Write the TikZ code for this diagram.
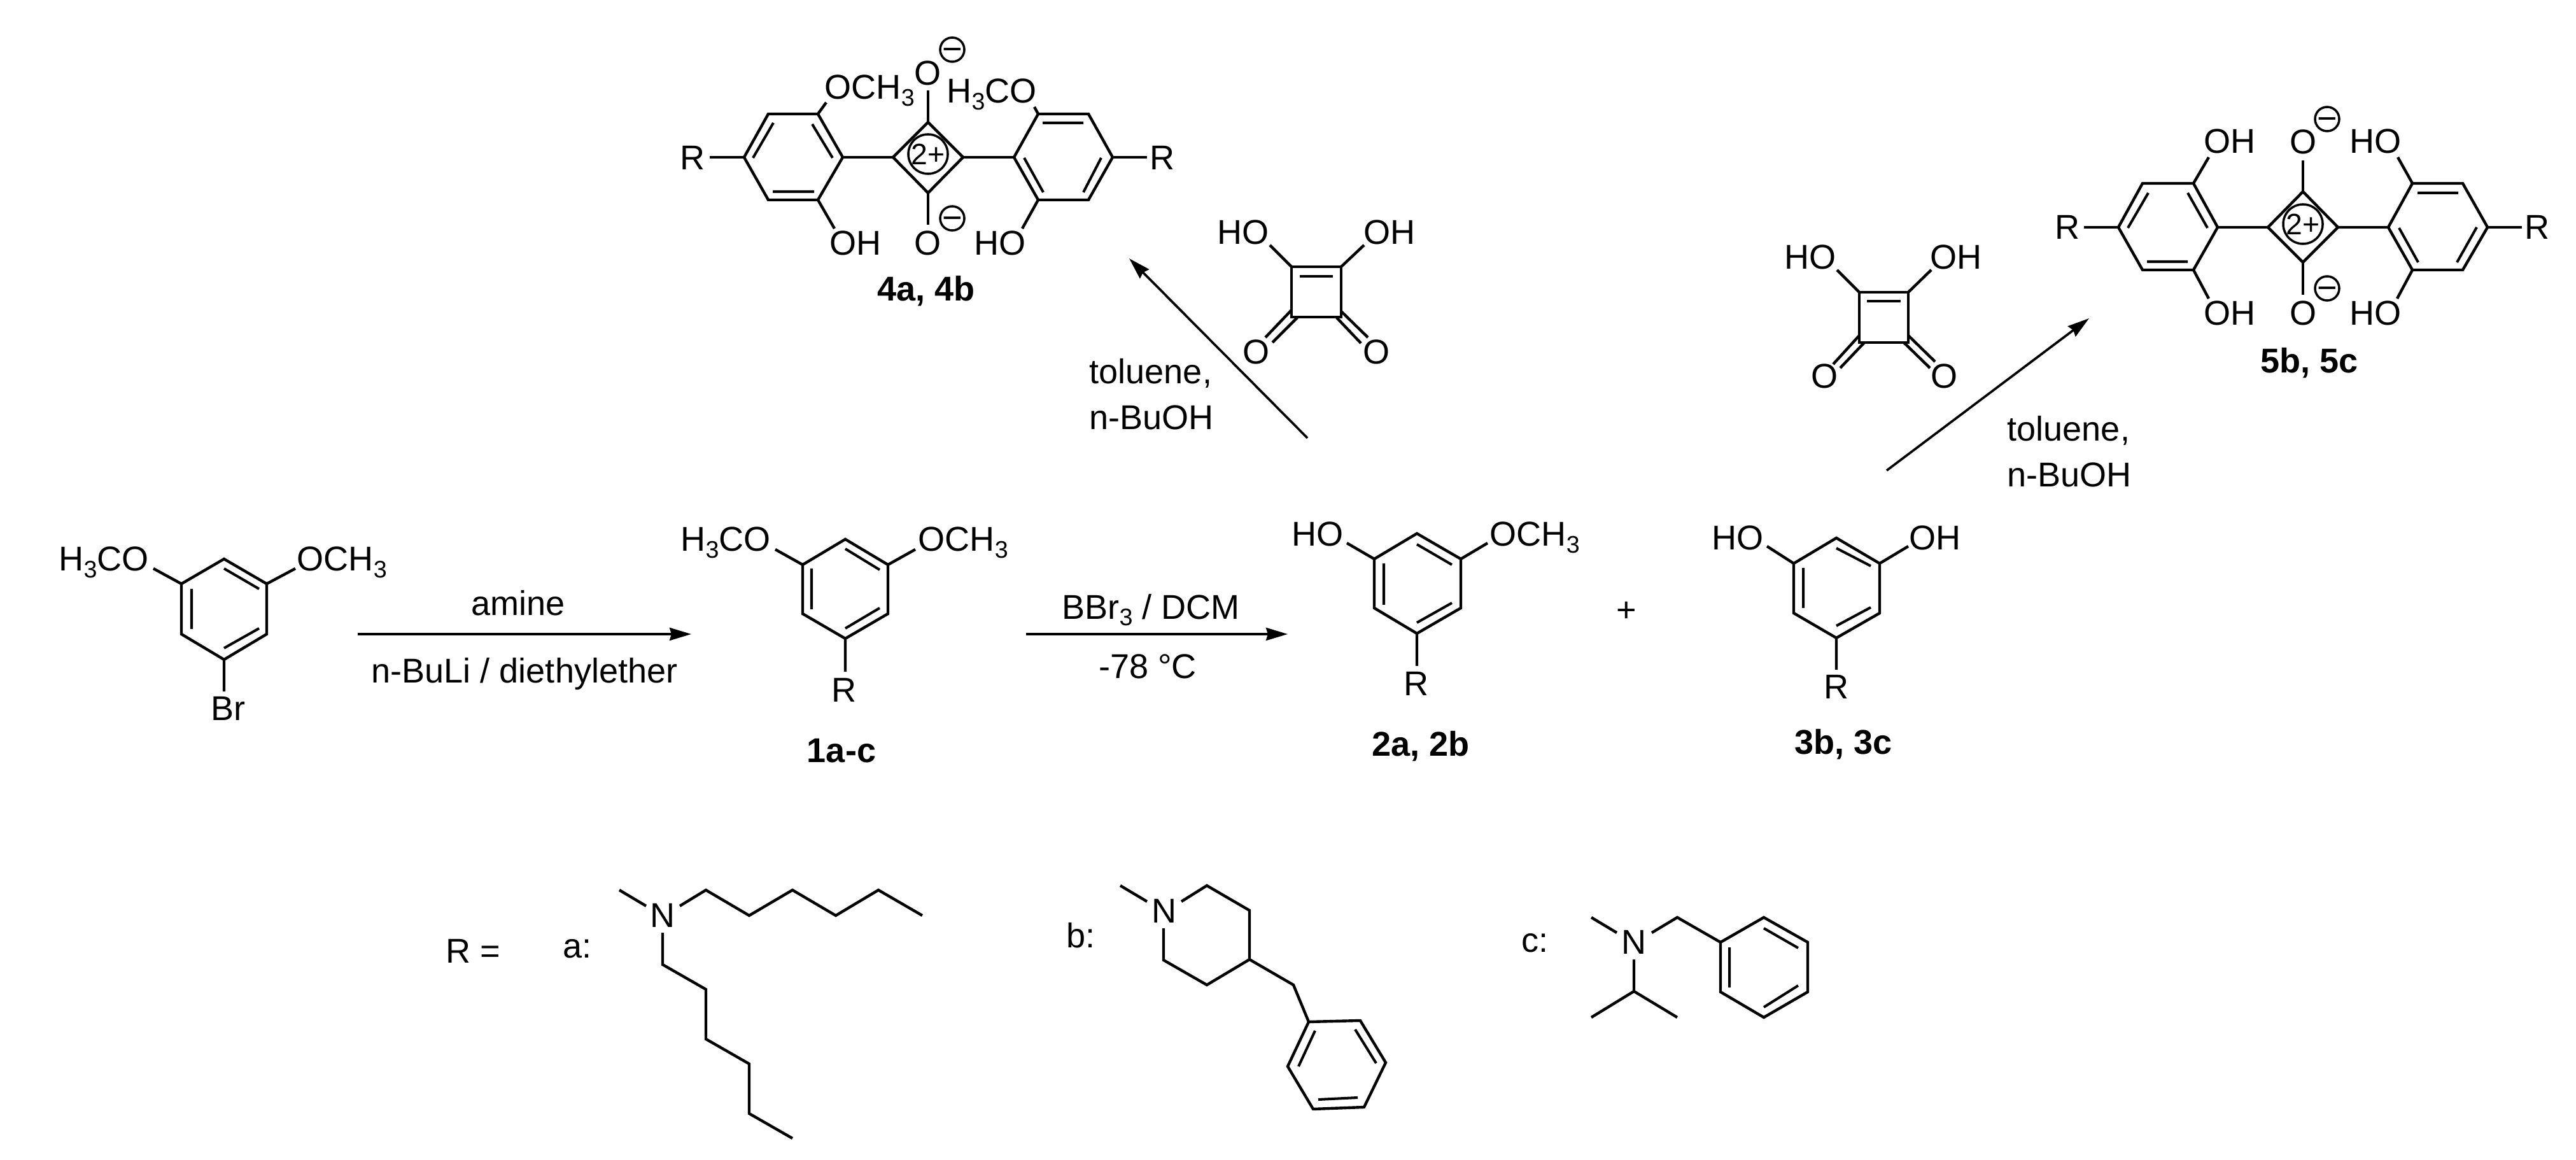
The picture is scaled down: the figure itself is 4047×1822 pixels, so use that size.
\documentclass[tikz,border=0pt]{standalone}
\usepackage{fontspec}
\setmainfont{Liberation Sans}
\usetikzlibrary{arrows.meta}
\newcommand{\subn}[1]{\raisebox{-0.2em}{\fontsize{10.7}{12}\selectfont #1}}
\newcommand{\midglyph}[2]{\makebox[0pt]{\raisebox{#1}[0pt][0pt]{#2}}}
\tikzset{
  bond/.style={line width=1.25pt,line join=miter},
  inbond/.style={line width=1.15pt,line cap=butt},
  lbl/.style={inner sep=0pt,anchor=base west,font=\fontsize{15.37}{18}\selectfont},
  lbc/.style={inner sep=0pt,anchor=base,font=\fontsize{15.37}{18}\selectfont},
  cmp/.style={inner sep=0pt,anchor=base,font=\fontsize{15.37}{18}\selectfont\bfseries},
  neg/.style={circle,draw,line width=1pt,minimum size=0.38cm,inner sep=0pt,font=\fontsize{15.37}{18}\selectfont},
  dipos/.style={circle,draw,line width=1pt,minimum size=0.62cm,inner sep=0pt,font=\fontsize{13.2}{15}\selectfont},
  rxn/.style={line width=1.05pt,-{Stealth[length=0.34cm,width=0.2cm,inset=0.03cm]}}
}
\begin{document}
\begin{tikzpicture}[x=0.01cm,y=-0.01cm]
\useasboundingbox (0,0) rectangle (4047,1822);
\fill[white] (0,0) rectangle (4047,1822);

% ---------- reaction arrows
\coordinate (a1s) at (562,996);  \coordinate (a1e) at (1086,996);
\coordinate (a2s) at (1612,996); \coordinate (a2e) at (2023,996);
\coordinate (a3s) at (2054,688); \coordinate (a3e) at (1774,406);
\coordinate (a4s) at (2964,739); \coordinate (a4e) at (3282,500);
\draw[rxn] (a1s) -- (a1e);
\draw[rxn] (a2s) -- (a2e);
\draw[rxn] (a3s) -- (a3e);
\draw[rxn] (a4s) -- (a4e);

% ---------- reagents on arrows
\node[lbc] (t1) at (814,967) {amine};
\node[lbc] (t2) at (824,1072) {n-BuLi / diethylether};
\node[lbc] (t3) at (1808,972) {BBr\subn{3} / DCM};
\node[lbc] (t4) at (1803,1065) {-78 °C};
\node[lbl] (t5) at (1711,603) {toluene,};
\node[lbl] (t6) at (1711,675) {n-BuOH};
\node[lbl] (t7) at (3153,693) {toluene,};
\node[lbl] (t8) at (3153,765) {n-BuOH};
\node[lbc] (plus) at (2555,977) {+};

% ---------- bromide
\draw[bond] (352,878) -- (419,917) -- (419,996) -- (352,1036) -- (285,996) -- (285,917) -- cycle;
\draw[inbond] (301,925) -- (301,988) (352,893) -- (407,925) (407,987) -- (352,1018);
\draw[bond] (285,917) -- (241,893) (419,917) -- (464,893) (352,1036) -- (352,1086);
\node[lbl] (s1) at (92,897) {H\subn{3}CO};
\node[lbl] (s2) at (466,897) {OCH\subn{3}};
\node[lbl] (s3) at (331,1131) {Br};

% ---------- 1a-c
\draw[bond] (1328,847) -- (1395,887) -- (1395,964) -- (1328,1003) -- (1261,964) -- (1261,887) -- cycle;
\draw[inbond] (1275,893) -- (1275,957) (1328,862) -- (1382,895) (1382,955) -- (1328,987);
\draw[bond] (1261,887) -- (1218,863) (1395,887) -- (1438,863) (1328,1003) -- (1328,1055);
\node[lbl] (p1) at (1069,866) {H\subn{3}CO};
\node[lbl] (p2) at (1442,866) {OCH\subn{3}};
\node[lbc] (p3) at (1326,1102) {R};
\node[cmp] (c1) at (1322,1197) {1a-c};

% ---------- 2a, 2b
\draw[bond] (2226,838) -- (2295,878) -- (2295,955) -- (2226,995) -- (2159,955) -- (2159,878) -- cycle;
\draw[inbond] (2174,885) -- (2174,950) (2226,855) -- (2281,887) (2281,947) -- (2226,978);
\draw[bond] (2159,878) -- (2116,853) (2295,878) -- (2337,853) (2226,995) -- (2226,1046);
\node[lbl] (q1) at (2029,858) {HO};
\node[lbl] (q2) at (2340,858) {OCH\subn{3}};
\node[lbc] (q3) at (2225,1092) {R};
\node[cmp] (c2) at (2232,1187) {2a, 2b};

% ---------- 3b, 3c
\draw[bond] (2885,845) -- (2953,885) -- (2953,963) -- (2885,1002) -- (2818,963) -- (2818,885) -- cycle;
\draw[inbond] (2833,892) -- (2833,955) (2885,861) -- (2939,889) (2939,954) -- (2885,983);
\draw[bond] (2818,885) -- (2776,858) (2953,885) -- (2998,858) (2885,1002) -- (2885,1052);
\node[lbl] (r1) at (2689,864) {HO};
\node[lbl] (r2) at (2999,864) {OH};
\node[lbc] (r3) at (2885,1097) {R};
\node[cmp] (c3) at (2896,1184) {3b, 3c};

% ---------- squaric acid (left)
\draw[bond] (2029,419) -- (2107,419) -- (2107,498) -- (2029,498) -- cycle;
\draw[inbond] (2042,434) -- (2094,434);
\draw[bond] (2029,419) -- (1995,385) (2107,419) -- (2143,385);
\draw[bond] (2029,487) -- (1988,530) (2038,499) -- (1999,538) (2107,489) -- (2149,530) (2100,499) -- (2138,539);
\node[lbl] (u1) at (1912,384) {HO};
\node[lbl] (u2) at (2142,384) {OH};
\node[lbc] (u3) at (1973,572) {O};
\node[lbc] (u4) at (2163,572) {O};

% ---------- squaric acid (right)
\draw[bond] (2921,459) -- (2998,459) -- (2998,538) -- (2921,538) -- cycle;
\draw[inbond] (2933,473) -- (2986,473);
\draw[bond] (2921,459) -- (2886,424) (2998,459) -- (3034,424);
\draw[bond] (2921,527) -- (2880,572) (2929,538) -- (2891,578) (2998,527) -- (3040,568) (2991,538) -- (3032,578);
\node[lbl] (v1) at (2803,423) {HO};
\node[lbl] (v2) at (3032,423) {OH};
\node[lbc] (v3) at (2866,610) {O};
\node[lbc] (v4) at (3054,610) {O};

% ---------- 4a, 4b
\draw[bond] (1169,247) -- (1207,179) -- (1285,179) -- (1324,247) -- (1285,314) -- (1207,314) -- cycle;
\draw[inbond] (1215,193) -- (1183,248) (1276,195) -- (1308,248) (1214,301) -- (1279,301);
\draw[bond] (1403,247) -- (1458,192) -- (1513,247) -- (1458,303) -- cycle;
\draw[bond] (1593,247) -- (1631,179) -- (1710,179) -- (1748,247) -- (1710,314) -- (1631,314) -- cycle;
\draw[inbond] (1638,193) -- (1702,193) (1609,248) -- (1639,302) (1730,248) -- (1702,302);
\draw[bond] (1115,247) -- (1169,247) (1324,247) -- (1403,247) (1513,247) -- (1593,247) (1748,247) -- (1802,247);
\draw[bond] (1458,192) -- (1458,142) (1458,303) -- (1458,353);
\draw[bond] (1285,179) -- (1298,161) (1631,179) -- (1625,168) (1285,314) -- (1311,359) (1631,314) -- (1606,359);
\node[lbc] (w1) at (1088,267) {R};
\node[lbc] (w2) at (1826,267) {R};
\node[lbl] (w3) at (1295,156) {OCH\subn{3}};
\node[lbl] (w4) at (1487,162) {H\subn{3}CO};
\node[lbc] (w5) at (1458,134) {O};
\node[lbc] (w6) at (1458,401) {O};
\node[lbl] (w7) at (1303,401) {OH};
\node[lbl] (w8) at (1530,401) {HO};
\node[neg] (w9) at (1496,78) {\midglyph{-0.33em}{−}};
\node[neg] (w10) at (1496,343) {\midglyph{-0.33em}{−}};
\node[dipos] (w11) at (1458,242) {\midglyph{-0.36em}{2+}};
\node[cmp] (c4) at (1455,473) {4a, 4b};

% ---------- 5b, 5c
\draw[bond] (3328,357) -- (3366,288) -- (3446,288) -- (3484,357) -- (3446,424) -- (3366,424) -- cycle;
\draw[inbond] (3375,303) -- (3343,358) (3437,303) -- (3468,358) (3373,411) -- (3437,411);
\draw[bond] (3563,357) -- (3618,301) -- (3673,357) -- (3618,412) -- cycle;
\draw[bond] (3752,357) -- (3790,288) -- (3869,288) -- (3908,357) -- (3869,424) -- (3790,424) -- cycle;
\draw[inbond] (3798,303) -- (3862,303) (3769,358) -- (3799,412) (3891,357) -- (3860,412);
\draw[bond] (3274,357) -- (3328,357) (3484,357) -- (3563,357) (3673,357) -- (3752,357) (3908,357) -- (3962,357);
\draw[bond] (3618,301) -- (3618,252) (3618,412) -- (3618,463);
\draw[bond] (3446,288) -- (3470,247) (3790,288) -- (3767,247) (3446,424) -- (3470,469) (3790,424) -- (3766,469);
\node[lbc] (x1) at (3248,376) {R};
\node[lbc] (x2) at (3986,376) {R};
\node[lbl] (x3) at (3462,241) {OH};
\node[lbl] (x4) at (3691,241) {HO};
\node[lbl] (x5) at (3462,511) {OH};
\node[lbl] (x6) at (3691,511) {HO};
\node[lbc] (x7) at (3618,242) {O};
\node[lbc] (x8) at (3618,511) {O};
\node[neg] (x9) at (3656,187) {\midglyph{-0.33em}{−}};
\node[neg] (x10) at (3656,453) {\midglyph{-0.33em}{−}};
\node[dipos] (x11) at (3618,352) {\midglyph{-0.36em}{2+}};
\node[cmp] (c5) at (3628,586) {5b, 5c};

% ---------- R groups
\node[lbl] (ra) at (700,1512) {R =};
\node[lbl] (la) at (884,1504) {a:};
\node[lbc] (na) at (1041,1456) {N};
\draw[bond] (973,1398) -- (1015,1423);
\draw[bond] (1068,1423) -- (1109,1398) -- (1177,1438) -- (1245,1398) -- (1313,1438) -- (1380,1398) -- (1449,1438);
\draw[bond] (1041,1465) -- (1041,1515) -- (1109,1554) -- (1109,1632) -- (1177,1671) -- (1177,1749) -- (1245,1788);

\node[lbl] (lb) at (1675,1488) {b:};
\node[lbc] (nb) at (1829,1449) {N};
\draw[bond] (1760,1391) -- (1802,1416);
\draw[bond] (1856,1416) -- (1896,1391) -- (1963,1430) -- (1963,1507) -- (1896,1547) -- (1828,1508) -- (1828,1458);
\draw[bond] (1963,1507) -- (2032,1547) -- (2056,1605);
\draw[bond] (2056,1605) -- (2137,1603) -- (2177,1669) -- (2143,1739) -- (2063,1742) -- (2023,1675) -- cycle;
\draw[inbond] (2066,1619) -- (2040,1675) (2129,1617) -- (2162,1670) (2071,1727) -- (2133,1724);

\node[lbl] (lc) at (2390,1495) {c:};
\node[lbc] (nc) at (2567,1498) {N};
\draw[bond] (2500,1441) -- (2540,1465);
\draw[bond] (2595,1465) -- (2635,1441) -- (2703,1480);
\draw[bond] (2703,1480) -- (2771,1441) -- (2840,1480) -- (2840,1558) -- (2771,1598) -- (2703,1558) -- cycle;
\draw[inbond] (2717,1488) -- (2717,1551) (2771,1458) -- (2825,1489) (2825,1548) -- (2771,1582);
\draw[bond] (2567,1507) -- (2567,1557) (2500,1598) -- (2567,1557) -- (2635,1598);
\end{tikzpicture}
\end{document}
